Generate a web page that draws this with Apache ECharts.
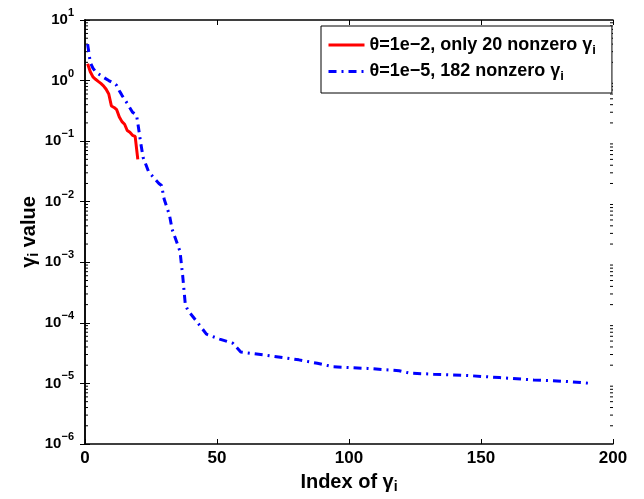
<!DOCTYPE html>
<html><head><meta charset="utf-8">
<script src="https://cdn.jsdelivr.net/npm/echarts@6/dist/echarts.min.js"></script>
<style>html,body{margin:0;padding:0;background:#fff}#c{width:644px;height:499px}</style>
</head><body><div id="c"></div>
<script>
const redName = 'θ=1e−2, only 20 nonzero γ';
const blueName = 'θ=1e−5, 182 nonzero γ';
const redIndex = [1,2,3,4,5,6,7,8,9,10,11,12,13,14,15,16,17,18,19,20];
const redValues = [1.9,1.4,1.15,1.05,0.97,0.9,0.82,0.72,0.6,0.38,0.36,0.33,0.25,0.21,0.19,0.15,0.14,0.125,0.12,0.05];
const blueIndex = [1,2,3,4,5,7,9,11,12,13,14,16,18,19.5,20,21,22,24,26,28,29,30,32,33,35,36,37,38,39,42,46,51,56,59,69,81,88,94,107,119,123,132,145,157,170,182,192];
const blueValues = [4.0,2.0,1.6,1.4,1.3,1.13,1.0,0.9,0.83,0.68,0.57,0.42,0.3,0.27,0.2,0.1,0.054,0.032,0.025,0.02,0.0185,0.011,0.006,0.0035,0.002,0.0015,0.0006,0.0002,0.00016,0.00011,6.5e-5,5.4e-5,4.6e-5,3.3e-5,2.9e-5,2.45e-5,2.15e-5,1.88e-5,1.77e-5,1.62e-5,1.48e-5,1.42e-5,1.35e-5,1.25e-5,1.14e-5,1.08e-5,1.0e-5];
const xTicks = [0, 50, 100, 150, 200];
const yDecadeExponents = [-6,-5,-4,-3,-2,-1,0,1];
const minorMultipliers = [2,3,4,5,6,7,8,9];

const FONT = 'Liberation Sans';
const minorTickValues = [];
yDecadeExponents.slice(0, -1).forEach(e => minorMultipliers.forEach(m => minorTickValues.push(m * Math.pow(10, e))));

const chart = echarts.init(document.getElementById('c'));
const axisLineStyle = {color: '#000', width: 1.5};
const supRich = {
  b: {fontSize: 15, fontWeight: 'bold', color: '#000', fontFamily: FONT},
  s: {fontSize: 11, fontWeight: 'bold', color: '#000', fontFamily: FONT, padding: [0, 0, 14, 0]}
};
const subRich = (size, subPad) => ({
  n: {fontSize: size, fontWeight: 'bold', color: '#000', fontFamily: FONT},
  i: {fontSize: Math.round(size * 0.7), fontWeight: 'bold', color: '#000', fontFamily: FONT, padding: [subPad, 0, 0, 0]}
});

const option = {
  animation: false,
  backgroundColor: '#fff',
  grid: {left: 85, right: 31, top: 20, bottom: 47, containLabel: false},
  legend: {
    orient: 'vertical', left: 321, top: 26,
    data: [redName, blueName],
    itemWidth: 36, itemHeight: 14, itemGap: 6,
    padding: [10, 16, 10, 6],
    borderColor: '#000', borderWidth: 1, backgroundColor: '#fff',
    itemStyle: {opacity: 0},
    lineStyle: {width: 3},
    formatter: name => '{n|' + name + '}{i|i}',
    textStyle: {rich: subRich(18, 10)}
  },
  xAxis: [{
    type: 'value', min: xTicks[0], max: xTicks[xTicks.length - 1], interval: 50, position: 'bottom',
    axisLine: {show: true, lineStyle: axisLineStyle},
    axisTick: {show: true, inside: true, length: 5, lineStyle: {color: '#000', width: 1}},
    axisLabel: {fontSize: 17, fontWeight: 'bold', color: '#000', fontFamily: FONT, margin: 6},
    splitLine: {show: false},
    name: '{n|Index of γ}{i|i}', nameLocation: 'middle', nameGap: 26, nameMoveOverlap: false,
    nameTextStyle: {rich: subRich(20, 10)}
  }, {
    type: 'value', min: 0, max: 200, interval: 50, position: 'top',
    axisLine: {show: true, lineStyle: axisLineStyle},
    axisTick: {show: true, inside: true, length: 5, lineStyle: {color: '#000', width: 1}},
    axisLabel: {show: false}, splitLine: {show: false}
  }],
  yAxis: [{
    type: 'log', logBase: 10, min: 1e-6, max: 10, interval: 1, position: 'left',
    axisLine: {show: true, lineStyle: axisLineStyle},
    axisTick: {show: true, inside: true, length: 5, lineStyle: {color: '#000', width: 1}},
    axisLabel: {
      margin: 11, color: '#000',
      formatter: v => {
        const e = Math.round(Math.log10(v));
        return '{b|10}{s|' + (e < 0 ? '−' + (-e) : e) + '}';
      },
      rich: supRich
    },
    splitLine: {show: false}, minorTick: {show: false},
    name: '{n|γ}{i|i}{n| value}', nameLocation: 'middle', nameGap: 44, nameRotate: 90, nameMoveOverlap: false,
    nameTextStyle: {rich: subRich(20, 10)}
  }, {
    type: 'log', logBase: 10, min: 1e-6, max: 10, interval: 1, position: 'right',
    axisLine: {show: true, lineStyle: axisLineStyle},
    axisTick: {show: true, inside: true, length: 5, lineStyle: {color: '#000', width: 1}},
    axisLabel: {show: false}, splitLine: {show: false}
  }],
  series: [{
    name: 'minorTicks', type: 'custom', xAxisIndex: 0, yAxisIndex: 0, silent: true, clip: false,
    data: minorTickValues.map(v => [0, v]),
    renderItem: (params, api) => {
      const v = api.value(1);
      const l = api.coord([xTicks[0], v]);
      const r = api.coord([xTicks[xTicks.length - 1], v]);
      return {type: 'group', children: [
        {type: 'line', shape: {x1: l[0], y1: l[1], x2: l[0] + 3, y2: l[1]}, style: {stroke: '#000', lineWidth: 1}},
        {type: 'line', shape: {x1: r[0] - 3, y1: r[1], x2: r[0], y2: r[1]}, style: {stroke: '#000', lineWidth: 1}}
      ]};
    }
  }, {
    name: blueName, type: 'line', xAxisIndex: 0, yAxisIndex: 0, symbol: 'none',
    data: blueIndex.map((x, i) => [x, blueValues[i]]),
    lineStyle: {color: '#0000ff', width: 3, type: [8, 5, 2, 5]},
    itemStyle: {color: '#0000ff', opacity: 0}, z: 2
  }, {
    name: redName, type: 'line', xAxisIndex: 0, yAxisIndex: 0, symbol: 'none',
    data: redIndex.map((x, i) => [x, redValues[i]]),
    lineStyle: {color: '#ff0000', width: 3},
    itemStyle: {color: '#ff0000', opacity: 0}, z: 3
  }]
};
chart.setOption(option);
</script></body></html>
